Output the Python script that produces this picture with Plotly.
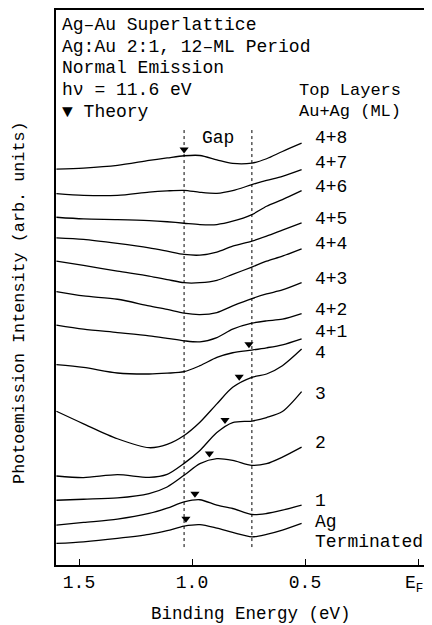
import plotly.graph_objects as go

# Binding energy grid (eV)
be = [1.60, 1.48, 1.33, 1.19, 1.11, 1.035, 0.965, 0.89, 0.82, 0.735, 0.67, 0.60, 0.515]

# Photoemission intensity (arb. units, offset stacked)
labels = ["4+8", "4+7", "4+6", "4+5", "4+4", "4+3", "4+2", "4+1", "4", "3", "2", "1", "Ag"]
s_4p8 = [397.3, 398.3, 401, 406, 408.5, 410.7, 411, 406.7, 403, 403.3, 407.7, 415, 423.3]
s_4p7 = [372.7, 371, 371, 374.3, 375.5, 376, 374, 373, 375.7, 381.7, 386, 390, 396.7]
s_4p6 = [349, 347.3, 346.7, 345.7, 344.5, 343, 341.7, 341.7, 345, 351.7, 360, 366.7, 375.7]
s_4p5 = [328.3, 326.7, 322.7, 318.3, 315, 311.7, 311, 314, 320, 325, 330, 336, 343.3]
s_4p4 = [305, 300.7, 295, 290, 286.5, 283.3, 283.3, 285.7, 291.7, 299, 305, 310, 317.3]
s_4p3 = [274.3, 270, 266.7, 260, 256.5, 252.7, 251.3, 253.3, 260, 267.3, 272, 276, 283.3]
s_4p2 = [240.7, 236.7, 233.3, 230, 227.5, 225, 224, 228.3, 236.7, 242.7, 245, 246.7, 252.3]
s_4p1 = [201, 198.3, 192.7, 191.7, 192.5, 194, 200, 208.3, 213, 215.7, 218, 221, 227]
s_4 = [154.3, 141.7, 126.7, 117.7, 121, 130, 143.3, 161.7, 178.3, 188.3, 191.7, 200, 216.7]
s_3 = [89.3, 87.7, 90.7, 88, 91, 102, 115, 133, 143, 144.5, 148, 154, 174]
s_2 = [65, 66, 67.3, 71.7, 78.3, 90, 101.7, 106.7, 105, 100, 101.7, 108.3, 118.3]
s_1 = [40, 42.7, 46, 51.7, 57, 63.3, 65.5, 60, 56.7, 50.7, 51.7, 55, 60]
s_ag = [21.7, 23.3, 26.7, 30.7, 34.5, 39, 40.5, 37, 32.7, 28.3, 30.7, 35, 41.7]
series = [s_4p8, s_4p7, s_4p6, s_4p5, s_4p4, s_4p3, s_4p2, s_4p1, s_4, s_3, s_2, s_1, s_ag]

# Label heights (intensity units) for right-hand labels
label_y = [429, 403, 379, 347, 322, 287, 256, 233.5, 213, 172, 122, 64, 43.5]
term_y = 23.3

# Theory markers
theory_be = [1.035, 0.748, 0.791, 0.854, 0.923, 0.987, 1.027]
theory_i = [417, 221.5, 189, 145.5, 112, 71.5, 46.5]

# Gap boundaries
gap_be = [1.035, 0.735]
gap_lo, gap_hi = 18, 437

xtick_vals = [1.5, 1.0, 0.5, 0.0]
xtick_text = ["1.5", "1.0", "0.5", ""]
ef_text = "E<sub>F</sub>"

FONT = "Liberation Mono"
OFF = 8  # page body margin
W, H = 432 - OFF, 625 - OFF
L, T = 56 - OFF, 8 - OFF
B = H - (565 - OFF)
R = 0
PW, PH = W - L - R, H - T - B

def px(x):
    return (x - OFF - L) / PW

def py(y):
    return (565 - y) / PH

fig = go.Figure()
for lab, s in zip(labels, series):
    fig.add_trace(go.Scatter(x=be, y=s, mode="lines", line=dict(color="black", width=1.3, shape="spline", smoothing=0.8),
                             name=lab, showlegend=False, hoverinfo="skip"))

for g in gap_be:
    fig.add_trace(go.Scatter(x=[g, g], y=[gap_lo, gap_hi], mode="lines",
                             line=dict(color="black", width=1, dash="3px,3px"), showlegend=False, hoverinfo="skip"))

fig.add_trace(go.Scatter(x=theory_be, y=theory_i, mode="markers",
                         marker=dict(symbol="triangle-down", size=8, color="black"), showlegend=False, hoverinfo="skip"))

ann = []
for lab, ly in zip(labels, label_y):
    ann.append(dict(x=0.465, y=ly, xref="x", yref="y", text=lab, showarrow=False, xanchor="left", yanchor="middle",
                    font=dict(family=FONT, size=18, color="black")))
ann.append(dict(x=0.465, y=term_y, xref="x", yref="y", text="Terminated", showarrow=False, xanchor="left",
                yanchor="middle", font=dict(family=FONT, size=18, color="black")))

header = ["Ag\u2013Au Superlattice", "Ag:Au 2:1, 12\u2013ML Period", "Normal Emission", "h\u03bd = 11.6 eV", "\u25bc Theory"]
hy = [23.3, 45, 66.7, 88.3, 110]
for t, y in zip(header, hy):
    ann.append(dict(x=px(60), y=py(y), xref="paper", yref="paper", text=t, showarrow=False, xanchor="left",
                    yanchor="middle", font=dict(family=FONT, size=18, color="black")))
ann.append(dict(x=px(297), y=py(88.3), xref="paper", yref="paper", text="Top Layers", showarrow=False,
                xanchor="left", yanchor="middle", font=dict(family=FONT, size=17, color="black")))
ann.append(dict(x=px(297), y=py(110), xref="paper", yref="paper", text="Au+Ag (ML)", showarrow=False,
                xanchor="left", yanchor="middle", font=dict(family=FONT, size=17, color="black")))
ann.append(dict(x=px(200), y=py(136), xref="paper", yref="paper", text="Gap", showarrow=False,
                xanchor="left", yanchor="middle", font=dict(family=FONT, size=18, color="black")))
ann.append(dict(x=px(251), y=py(614), xref="paper", yref="paper", text="Binding Energy (eV)", showarrow=False,
                xanchor="center", yanchor="middle", font=dict(family=FONT, size=17.5, color="black")))
ann.append(dict(x=px(20), y=py(302), xref="paper", yref="paper", text="Photoemission Intensity (arb. units)",
                showarrow=False, textangle=-90, xanchor="center", yanchor="middle",
                font=dict(family=FONT, size=16.8, color="black")))
ann.append(dict(x=px(425), y=py(585), xref="paper", yref="paper", text=ef_text, showarrow=False,
                xanchor="right", yanchor="middle", font=dict(family=FONT, size=18, color="black")))

fig.update_layout(
    width=W, height=H, margin=dict(l=L, r=R, t=T, b=B),
    paper_bgcolor="white", plot_bgcolor="white",
    annotations=ann,
    xaxis=dict(range=[(418 - 56) / 226, (418 - 432) / 226], showgrid=False, zeroline=False,
               showline=True, linecolor="black", linewidth=1.5, mirror=True,
               ticks="inside", ticklen=6, tickwidth=1, tickcolor="black",
               tickvals=xtick_vals, ticktext=xtick_text,
               tickfont=dict(family=FONT, size=18, color="black")),
    yaxis=dict(range=[0, PH], showgrid=False, zeroline=False, showline=True, linecolor="black", linewidth=1.5,
               showticklabels=False, ticks=""),
)
fig.write_html("out.html",
               post_script="document.documentElement.style.overflow='hidden';document.body.style.overflow='hidden';")
